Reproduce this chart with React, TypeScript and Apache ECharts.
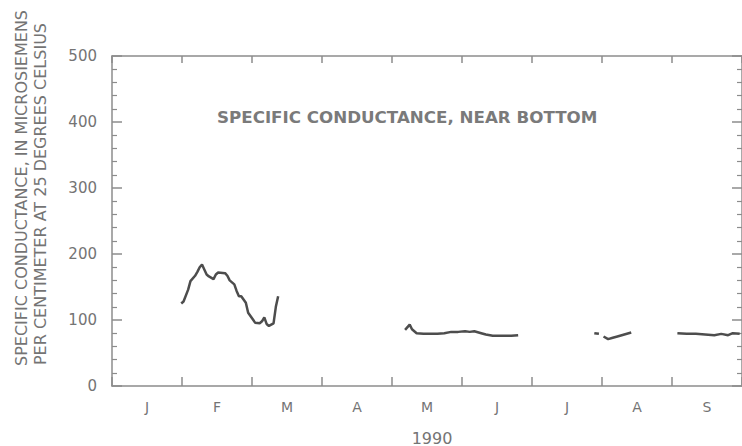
import React, { useEffect, useRef } from "react";
import * as echarts from "echarts";

// Month categories and their tick labels
const MONTHS = ["Jan", "Feb", "Mar", "Apr", "May", "Jun", "Jul", "Aug", "Sep"];
const MONTH_LABELS = ["J", "F", "M", "A", "M", "J", "J", "A", "S"];
const Y_TICKS = [0, 100, 200, 300, 400, 500];

// Specific conductance, near bottom (microsiemens/cm at 25 C), 1990
const segWinter: [string, number][] = [
  ["1990-01-31", 125], ["1990-02-01", 128], ["1990-02-03", 146], ["1990-02-04", 159],
  ["1990-02-06", 167], ["1990-02-07", 173], ["1990-02-08", 180], ["1990-02-09", 184],
  ["1990-02-11", 169], ["1990-02-12", 166], ["1990-02-14", 162], ["1990-02-15", 169],
  ["1990-02-16", 172], ["1990-02-19", 171], ["1990-02-20", 167], ["1990-02-21", 160],
  ["1990-02-23", 154], ["1990-02-24", 144], ["1990-02-25", 136], ["1990-02-26", 136],
  ["1990-02-28", 126], ["1990-03-01", 111], ["1990-03-03", 101], ["1990-03-04", 96],
  ["1990-03-06", 95], ["1990-03-07", 98], ["1990-03-08", 104], ["1990-03-09", 94],
  ["1990-03-10", 91], ["1990-03-12", 95], ["1990-03-13", 120], ["1990-03-14", 136],
];
const segSpring: [string, number][] = [
  ["1990-05-08", 85], ["1990-05-10", 93], ["1990-05-11", 86], ["1990-05-13", 80],
  ["1990-05-16", 79], ["1990-05-19", 79], ["1990-05-22", 79], ["1990-05-25", 80],
  ["1990-05-28", 82], ["1990-05-31", 82], ["1990-06-03", 83], ["1990-06-05", 82],
  ["1990-06-07", 83], ["1990-06-10", 80], ["1990-06-12", 78], ["1990-06-15", 76],
  ["1990-06-18", 76], ["1990-06-23", 76], ["1990-06-26", 77],
];
const segJuly: [string, number][] = [
  ["1990-07-29", 80], ["1990-07-31", 79],
];
const segAugust: [string, number][] = [
  ["1990-08-02", 75], ["1990-08-04", 71], ["1990-08-06", 73], ["1990-08-08", 75],
  ["1990-08-11", 78], ["1990-08-14", 81],
];
const segSeptember: [string, number][] = [
  ["1990-09-03", 80], ["1990-09-07", 79], ["1990-09-11", 79], ["1990-09-15", 78],
  ["1990-09-19", 77], ["1990-09-22", 79], ["1990-09-25", 77], ["1990-09-27", 80],
  ["1990-09-30", 79],
];

const TEXT = "#747474";
const AXIS = "#8c8c8c";
const LINE = "#4d4d4d";
const FONT = "DejaVu Sans";

export default function App() {
  const ref = useRef<HTMLDivElement>(null);
  useEffect(() => {
    if (!ref.current) return;
    const chart = echarts.init(ref.current, undefined, { renderer: "svg" });
    const mkSeries = (data: [string, number][]) => ({
      type: "line",
      xAxisIndex: 0,
      yAxisIndex: 0,
      data,
      showSymbol: false,
      symbol: "none",
      lineStyle: { color: LINE, width: 2.5 },
      silent: true,
    });
    const catAxis = (position: "top" | "bottom", labels: boolean, len: number) => ({
      type: "category",
      position,
      data: MONTHS,
      boundaryGap: true,
      axisLine: { show: true, onZero: false, lineStyle: { color: AXIS, width: 1.5 } },
      axisTick: { show: true, inside: true, length: len, interval: 0, lineStyle: { color: AXIS, width: 1.5 } },
      axisLabel: {
        show: labels,
        interval: 0,
        margin: 14,
        color: TEXT,
        fontFamily: FONT,
        fontSize: 14,
        formatter: (_v: string, i: number) => MONTH_LABELS[i],
      },
      splitLine: { show: false },
    });
    const valAxis = (position: "left" | "right", labels: boolean) => ({
      type: "value",
      position,
      min: Y_TICKS[0],
      max: Y_TICKS[Y_TICKS.length - 1],
      interval: 100,
      axisLine: { show: true, lineStyle: { color: AXIS, width: 1.5 } },
      axisTick: { show: true, inside: true, length: 10, lineStyle: { color: AXIS, width: 1.5 } },
      minorTick: { show: true, splitNumber: 5, length: 5, lineStyle: { color: AXIS, width: 1.2 } },
      axisLabel: { show: labels, margin: 15, color: TEXT, fontFamily: FONT, fontSize: 15 },
      splitLine: { show: false },
      minorSplitLine: { show: false },
    });
    chart.setOption({
      animation: false,
      backgroundColor: "#ffffff",
      grid: { left: 112, right: -5, top: 56, bottom: 60, containLabel: false },
      xAxis: [
        { type: "time", min: "1990-01-01", max: "1990-10-01", show: false },
        catAxis("bottom", true, 9),
        catAxis("top", false, 7),
      ],
      yAxis: [valAxis("left", true), valAxis("right", false)],
      series: [
        mkSeries(segWinter),
        mkSeries(segSpring),
        mkSeries(segJuly),
        mkSeries(segAugust),
        mkSeries(segSeptember),
      ],
      graphic: [
        {
          type: "text",
          x: 217,
          y: 117,
          style: {
            text: "SPECIFIC CONDUCTANCE, NEAR BOTTOM",
            fill: "#7a7a7a",
            font: `bold 16.7px "${FONT}"`,
            align: "left",
            verticalAlign: "middle",
          },
        },
        {
          type: "text",
          x: 432,
          y: 438,
          style: { text: "1990", fill: TEXT, font: `16px "${FONT}"`, align: "center", verticalAlign: "middle" },
        },
        {
          type: "text",
          x: 21,
          y: 188,
          rotation: Math.PI / 2,
          style: {
            text: "SPECIFIC CONDUCTANCE, IN MICROSIEMENS",
            fill: TEXT,
            font: `16px "${FONT}"`,
            align: "center",
            verticalAlign: "middle",
          },
        },
        {
          type: "text",
          x: 40,
          y: 194,
          rotation: Math.PI / 2,
          style: {
            text: "PER CENTIMETER AT 25 DEGREES CELSIUS",
            fill: TEXT,
            font: `16px "${FONT}"`,
            align: "center",
            verticalAlign: "middle",
          },
        },
      ],
    });
    return () => chart.dispose();
  }, []);
  return (
    <div
      ref={ref}
      style={{ position: "fixed", left: 0, top: 0, width: 742, height: 446, background: "#fff" }}
    />
  );
}
